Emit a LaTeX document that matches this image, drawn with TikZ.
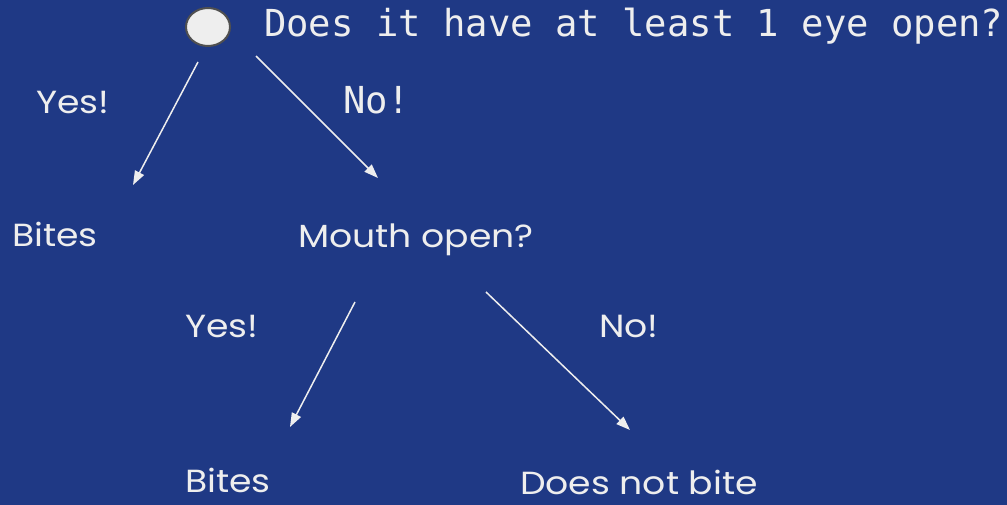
\documentclass[tikz,border=0pt]{standalone}
\usepackage{fontspec}
\setmainfont[FakeStretch=1.13]{Poppins}
\newfontfamily\monof{DejaVu Sans Mono}
\usetikzlibrary{arrows.meta,shapes.geometric}
\definecolor{bg}{RGB}{31,57,133}
\definecolor{fg}{RGB}{238,238,238}
\definecolor{ring}{RGB}{80,80,80}
\begin{document}
\begin{tikzpicture}[x=1pt,y=-1pt,
  lbl/.style={anchor=base west,inner sep=0pt,text=fg,font=\fontsize{32}{36}\selectfont},
  mono/.style={anchor=base west,inner sep=0pt,text=fg,font=\monof\fontsize{37.2}{40}\selectfont},
  conn/.style={draw=fg,line width=1.5pt,-{Triangle[length=14pt,width=10pt]}}]
\fill[bg] (0,0) rectangle (1007,505);
\useasboundingbox (0,0) rectangle (1007,505);
\node[draw=ring,line width=2pt,fill=fg,ellipse,minimum width=44pt,minimum height=38pt,inner sep=0pt] (root) at (208,27) {};
\node[mono] (q1) at (264,37) {Does it have at least 1 eye open?};
\node[mono] (n1) at (343,114) {No!};
\node[lbl] (y1) at (36,114) {Yes!};
\node[lbl] (b1) at (12,247) {Bites};
\node[lbl] (q2) at (298,248) {Mouth open?};
\node[lbl] (y2) at (185,337) {Yes!};
\node[lbl] (n2) at (599,337) {No!};
\node[lbl] (b2) at (185,492) {Bites};
\node[lbl] (nb) at (520,494) {Does not bite};
\coordinate (a1s) at (198,62); \coordinate (a1e) at (133,185);
\coordinate (a2s) at (256,56); \coordinate (a2e) at (378,178);
\coordinate (a3s) at (355,302); \coordinate (a3e) at (290,427);
\coordinate (a4s) at (486,292); \coordinate (a4e) at (630,430);
\draw[conn] (a1s) -- (a1e);
\draw[conn] (a2s) -- (a2e);
\draw[conn] (a3s) -- (a3e);
\draw[conn] (a4s) -- (a4e);
\end{tikzpicture}
\end{document}
